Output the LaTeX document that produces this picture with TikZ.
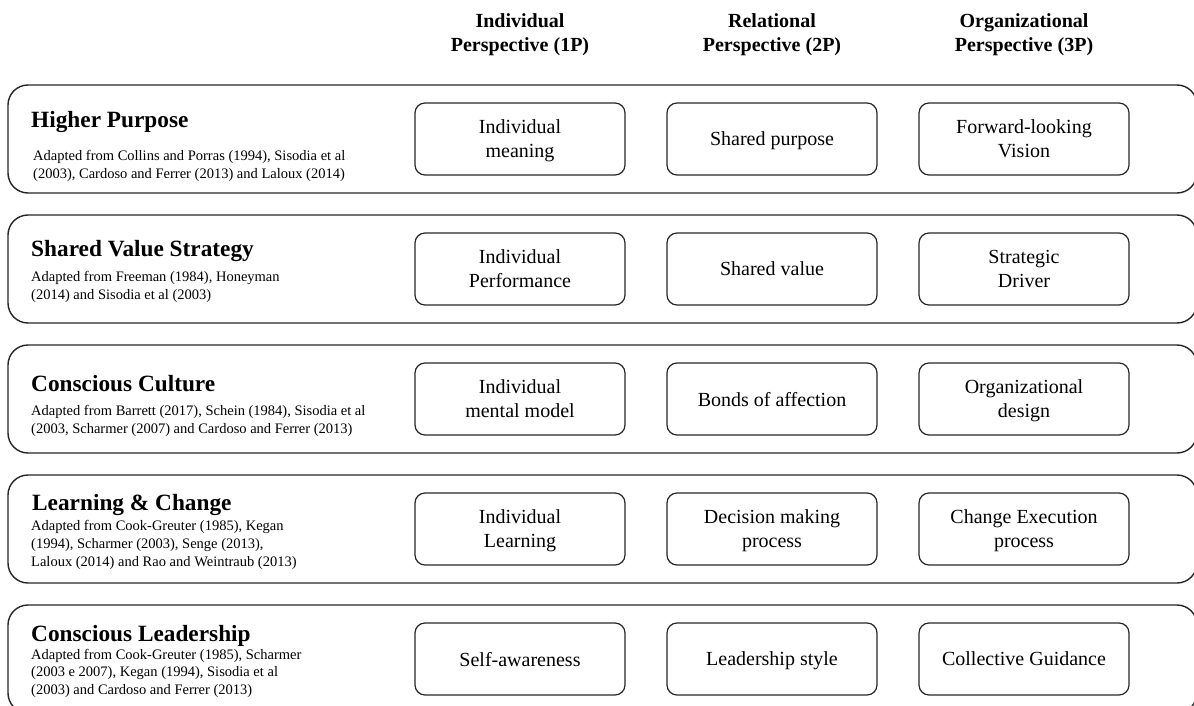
\documentclass[tikz,border=0pt]{standalone}
\usepackage{fontspec}
\setmainfont{Liberation Serif}
\usetikzlibrary{positioning}

\begin{document}
\begin{tikzpicture}[x=1pt, y=-1pt,
    rowbox/.style={draw=black!85, line width=1.4pt, rounded corners=20pt, minimum width=1189pt, minimum height=108pt, inner sep=0pt},
    itembox/.style={draw=black!85, line width=1.2pt, rounded corners=10pt, minimum width=210pt, minimum height=72pt, inner sep=0pt, text depth=-3pt, align=center, font=\fontsize{20}{24}\selectfont},
    header/.style={anchor=north, align=center, inner sep=0pt, font=\bfseries\fontsize{20}{24}\selectfont},
    rowtitle/.style={anchor=base west, inner sep=0pt, font=\bfseries\fontsize{23.3}{27}\selectfont},
    refs/.style={anchor=north west, align=left, inner sep=0pt, font=\fontsize{14.5}{18}\selectfont}]
    \useasboundingbox (0,0) rectangle (1194,706);
    \clip (0,0) rectangle (1194,706);

    % Column headers
    \node[header] (head1) at (520,13) {Individual\\Perspective (1P)};
    \node[header] (head2) at (772,13) {Relational\\Perspective (2P)};
    \node[header] (head3) at (1024,13) {Organizational\\Perspective (3P)};

    % Outer rows
    \node[rowbox] (row1) at (602.5,139) {};
    \node[rowbox] (row2) at (602.5,269) {};
    \node[rowbox] (row3) at (602.5,399) {};
    \node[rowbox] (row4) at (602.5,529) {};
    \node[rowbox] (row5) at (602.5,659) {};

    % Row titles and sources
    \node[rowtitle] (title1) at (31,128) {Higher Purpose};
    \node[refs] (refs1) at (33,150) {Adapted from Collins and Porras (1994), Sisodia et al\\(2003), Cardoso and Ferrer (2013) and Laloux (2014)};
    \node[rowtitle] (title2) at (31,256) {Shared Value Strategy};
    \node[refs] (refs2) at (31,271) {Adapted from Freeman (1984), Honeyman\\(2014) and Sisodia et al (2003)};
    \node[rowtitle] (title3) at (31,391) {Conscious Culture};
    \node[refs] (refs3) at (31,405) {Adapted from Barrett (2017), Schein (1984), Sisodia et al\\(2003, Scharmer (2007) and Cardoso and Ferrer (2013)};
    \node[rowtitle] (title4) at (32,510) {Learning \& Change};
    \node[refs] (refs4) at (31,520) {Adapted from Cook-Greuter (1985), Kegan\\(1994), Scharmer (2003), Senge (2013),\\Laloux (2014) and Rao and Weintraub (2013)};
    \node[rowtitle] (title5) at (31,641) {Conscious Leadership};
    \node[refs, font=\fontsize{14.5}{17.5}\selectfont] (refs5) at (31,649) {Adapted from Cook-Greuter (1985), Scharmer\\(2003 e 2007), Kegan (1994), Sisodia et al\\(2003) and Cardoso and Ferrer (2013)};

    % Higher purpose
    \node[itembox] (ind1) at (520,139) {Individual\\meaning};
    \node[itembox] (rel1) at (772,139) {Shared purpose};
    \node[itembox] (org1) at (1024,139) {Forward-looking\\Vision};

    % Shared value strategy
    \node[itembox] (ind2) at (520,269) {Individual\\Performance};
    \node[itembox] (rel2) at (772,269) {Shared value};
    \node[itembox] (org2) at (1024,269) {Strategic\\Driver};

    % Conscious culture
    \node[itembox] (ind3) at (520,399) {Individual\\mental model};
    \node[itembox] (rel3) at (772,399) {Bonds of affection};
    \node[itembox] (org3) at (1024,399) {Organizational\\design};

    % Learning and change
    \node[itembox] (ind4) at (520,529) {Individual\\Learning};
    \node[itembox] (rel4) at (772,529) {Decision making\\process};
    \node[itembox] (org4) at (1024,529) {Change Execution\\process};

    % Conscious leadership
    \node[itembox] (ind5) at (520,659) {Self-awareness};
    \node[itembox] (rel5) at (772,659) {Leadership style};
    \node[itembox] (org5) at (1024,659) {Collective Guidance};
\end{tikzpicture}
\end{document}
